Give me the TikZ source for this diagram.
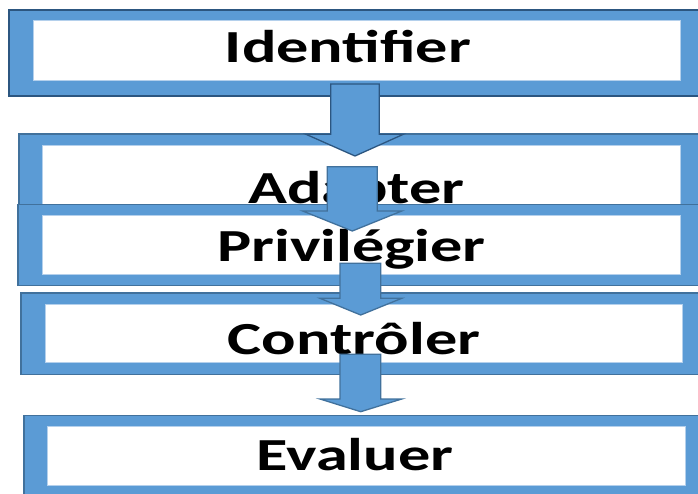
\documentclass[tikz,border=0pt]{standalone}
\usepackage{fontspec}
\setmainfont{Carlito}
\definecolor{boxfill}{HTML}{5B9BD5}
\definecolor{boxline}{HTML}{41719C}
\definecolor{boxlinedark}{HTML}{2C5680}
\definecolor{innerline}{HTML}{B4D0EC}
\newcommand{\wide}[1]{\scalebox{1.4}[1]{#1}}
\begin{document}
\begin{tikzpicture}[x=1pt,y=-1pt,
  outerbox/.style={fill=boxfill, draw=boxline, line width=1.6pt},
  innerbox/.style={fill=white, draw=innerline, line width=0.8pt},
  steplabel/.style={anchor=base, inner sep=0pt, font=\bfseries\fontsize{45.9}{50}\selectfont},
  blockarrow/.style={fill=boxfill, draw=boxline, line width=1.3pt, line join=miter}]
\useasboundingbox (0,0) rectangle (698,493);
\clip (0,0) rectangle (698,493);
% Box 1
\draw[outerbox, draw=boxlinedark, line width=2pt] (8.8,9.5) rectangle (705,96.2);
\draw[innerbox] (33,20) rectangle (680.7,80);
\node[steplabel] (t1) at (348,62.3) {\wide{Identifier}};
% Box 2
\draw[outerbox] (18.8,133.8) rectangle (705,221);
\draw[innerbox] (42.3,145) rectangle (680,216);
\node[steplabel] (t2) at (356.5,203.3) {\wide{Adapter}};
% Box 3
\draw[outerbox] (18.2,204.5) rectangle (705,285.5);
\draw[innerbox] (42.3,215.7) rectangle (680,274.3);
\node[steplabel] (t3) at (351.5,261) {\wide{Privilégier}};
% Box 4
\draw[outerbox] (21.2,293.2) rectangle (705,374.5);
\draw[innerbox] (45,304.3) rectangle (682.3,362.7);
\node[steplabel] (t4) at (354,354.5) {\wide{Contrôler}};
% Box 5
\draw[outerbox] (23.8,415.5) rectangle (710,500);
\draw[innerbox] (47.7,426.7) rectangle (685.3,485.3);
\node[steplabel] (t5) at (355,470) {\wide{Evaluer}};
% Arrows
\draw[blockarrow, draw=boxlinedark] (330.7,84) -- (379.3,84) -- (379.3,134.3) -- (403.3,134.3)
  -- (355,156) -- (306,134.3) -- (330.7,134.3) -- cycle;
\draw[blockarrow] (327.3,166.7) -- (377.3,166.7) -- (377.3,211) -- (401.7,211)
  -- (352.3,231) -- (302.7,211) -- (327.3,211) -- cycle;
\draw[blockarrow] (340,263.3) -- (380.7,263.3) -- (380.7,298.3) -- (401.7,298.3)
  -- (360.7,315) -- (320,298.3) -- (340,298.3) -- cycle;
\draw[blockarrow] (340,354.3) -- (380.7,354.3) -- (380.7,399) -- (401.7,399)
  -- (360.7,411.7) -- (320,399) -- (340,399) -- cycle;
\end{tikzpicture}
\end{document}
